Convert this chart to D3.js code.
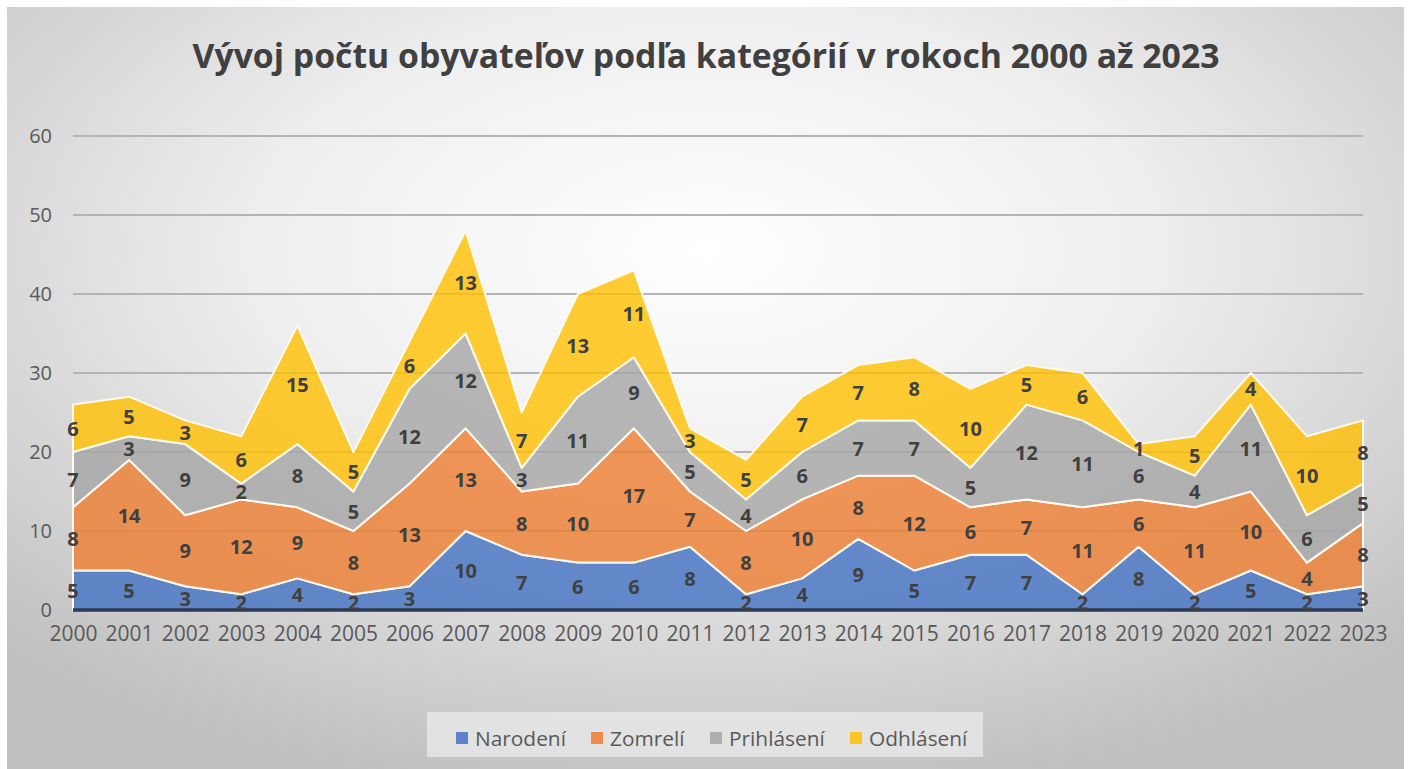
<!DOCTYPE html>
<html><head><meta charset="utf-8">
<script src="https://cdn.jsdelivr.net/npm/d3@7"></script>
<style>html,body{margin:0;padding:0;background:#fff;}svg{display:block;}</style>
</head><body>
<svg id="c" width="1408" height="769"></svg>
<script>
const years = [2000,2001,2002,2003,2004,2005,2006,2007,2008,2009,2010,2011,2012,2013,2014,2015,2016,2017,2018,2019,2020,2021,2022,2023];
const narodeni   = [5,5,3,2,4,2,3,10,7,6,6,8,2,4,9,5,7,7,2,8,2,5,2,3];
const zomreli    = [8,14,9,12,9,8,13,13,8,10,17,7,8,10,8,12,6,7,11,6,11,10,4,8];
const prihlaseni = [7,3,9,2,8,5,12,12,3,11,9,5,4,6,7,7,5,12,11,6,4,11,6,5];
const odhlaseni  = [6,5,3,6,15,5,6,13,7,13,11,3,5,7,7,8,10,5,6,1,5,4,10,8];
const seriesNames = ["Narodení","Zomrelí","Prihlásení","Odhlásení"];
const seriesColors = ["#4472C4","#ED7D31","#A5A5A5","#FFC000"];
const yTicks = [0,10,20,30,40,50,60];
const title = "Vývoj počtu obyvateľov podľa kategórií v rokoch 2000 až 2023";

const svg = d3.select("#c");
const defs = svg.append("defs");
const rg = defs.append("radialGradient").attr("id","bg")
  .attr("cx","0.5").attr("cy","0.32").attr("r","0.72").attr("fx","0.5").attr("fy","0.32");
rg.append("stop").attr("offset","0").attr("stop-color","#ffffff");
rg.append("stop").attr("offset","0.45").attr("stop-color","#eeeeee");
rg.append("stop").attr("offset","1").attr("stop-color","#c0c0c0");

svg.append("rect").attr("x",7).attr("y",7).attr("width",1397).attr("height",762).attr("fill","url(#bg)");

const font = "'Open Sans', 'Noto Sans', sans-serif";

// title fitted to width
const t = svg.append("text").attr("x",706).attr("y",68).attr("text-anchor","middle")
  .attr("font-family",font).attr("font-weight","bold").attr("font-size",32)
  .attr("fill","#404040").text(title);
const w = t.node().getComputedTextLength();
t.attr("font-size", 32*1027/w);

const data = years.map((y,i)=>({year:y, "Narodení":narodeni[i], "Zomrelí":zomreli[i], "Prihlásení":prihlaseni[i], "Odhlásení":odhlaseni[i]}));
const x = d3.scalePoint().domain(years).range([73,1363]);
const y = d3.scaleLinear().domain([0,60]).range([610,136]);

// gridlines
svg.append("g").selectAll("line").data(yTicks.filter(d=>d>0)).join("line")
  .attr("x1",73).attr("x2",1363).attr("y1",d=>y(d)).attr("y2",d=>y(d))
  .attr("stroke","#b4b4b4").attr("stroke-width",2);

const stack = d3.stack().keys(seriesNames);
const layers = stack(data);
const area = d3.area().x(d=>x(d.data.year)).y0(d=>y(d[0])).y1(d=>y(d[1]));
svg.append("g").selectAll("path").data(layers).join("path")
  .attr("d",area).attr("fill",(d,i)=>seriesColors[i]).attr("fill-opacity",0.8)
  .attr("stroke","#fffaf0").attr("stroke-width",2).attr("stroke-linejoin","round");

// axis line
svg.append("line").attr("x1",73).attr("x2",1363).attr("y1",y(0)).attr("y2",y(0))
  .attr("stroke","#2e3a52").attr("stroke-width",3.5);

// y axis labels
const yAxis = d3.axisLeft(y).tickValues(yTicks).tickSize(0).tickPadding(0);
const gy = svg.append("g").attr("transform","translate(52,0)").call(yAxis);
gy.select(".domain").remove();
gy.selectAll("text").attr("font-family",font).attr("font-size",20).attr("fill","#595959");

// x axis labels
const xAxis = d3.axisBottom(x).tickSize(0).tickPadding(0).tickFormat(d=>String(d));
const gx = svg.append("g").attr("transform","translate(0,626)").call(xAxis);
gx.select(".domain").remove();
gx.selectAll("text").attr("font-family",font).attr("font-size",21).attr("fill","#595959").attr("dy","0.72em").attr("y",0);

// data labels
layers.forEach((L,si)=>{
  svg.append("g").selectAll("text").data(L).join("text")
    .attr("x",d=>x(d.data.year)).attr("y",d=>y((d[0]+d[1])/2))
    .attr("text-anchor","middle").attr("dominant-baseline","central")
    .attr("font-family",font).attr("font-weight","bold").attr("font-size",20)
    .attr("fill","#404040").text(d=>d.data[L.key]);
});

// legend
svg.append("rect").attr("x",427).attr("y",712).attr("width",556).attr("height",45)
  .attr("fill","#e6e6e6").attr("fill-opacity",0.85);
const legX = [456,591,710,850];
const lg = svg.append("g").selectAll("g").data(seriesNames).join("g")
  .attr("transform",(d,i)=>`translate(${legX[i]},738)`);
lg.append("rect").attr("x",0).attr("y",-6).attr("width",12).attr("height",12)
  .attr("fill",(d,i)=>seriesColors[i]).attr("fill-opacity",0.85);
const lt = lg.append("text").attr("x",19).attr("y",0).attr("dominant-baseline","central")
  .attr("font-family",font).attr("font-size",21).attr("fill","#595959").text(d=>d);
const lw = lt.nodes()[0].getComputedTextLength();
lt.attr("font-size", 21*91/lw);
</script>
</body></html>
